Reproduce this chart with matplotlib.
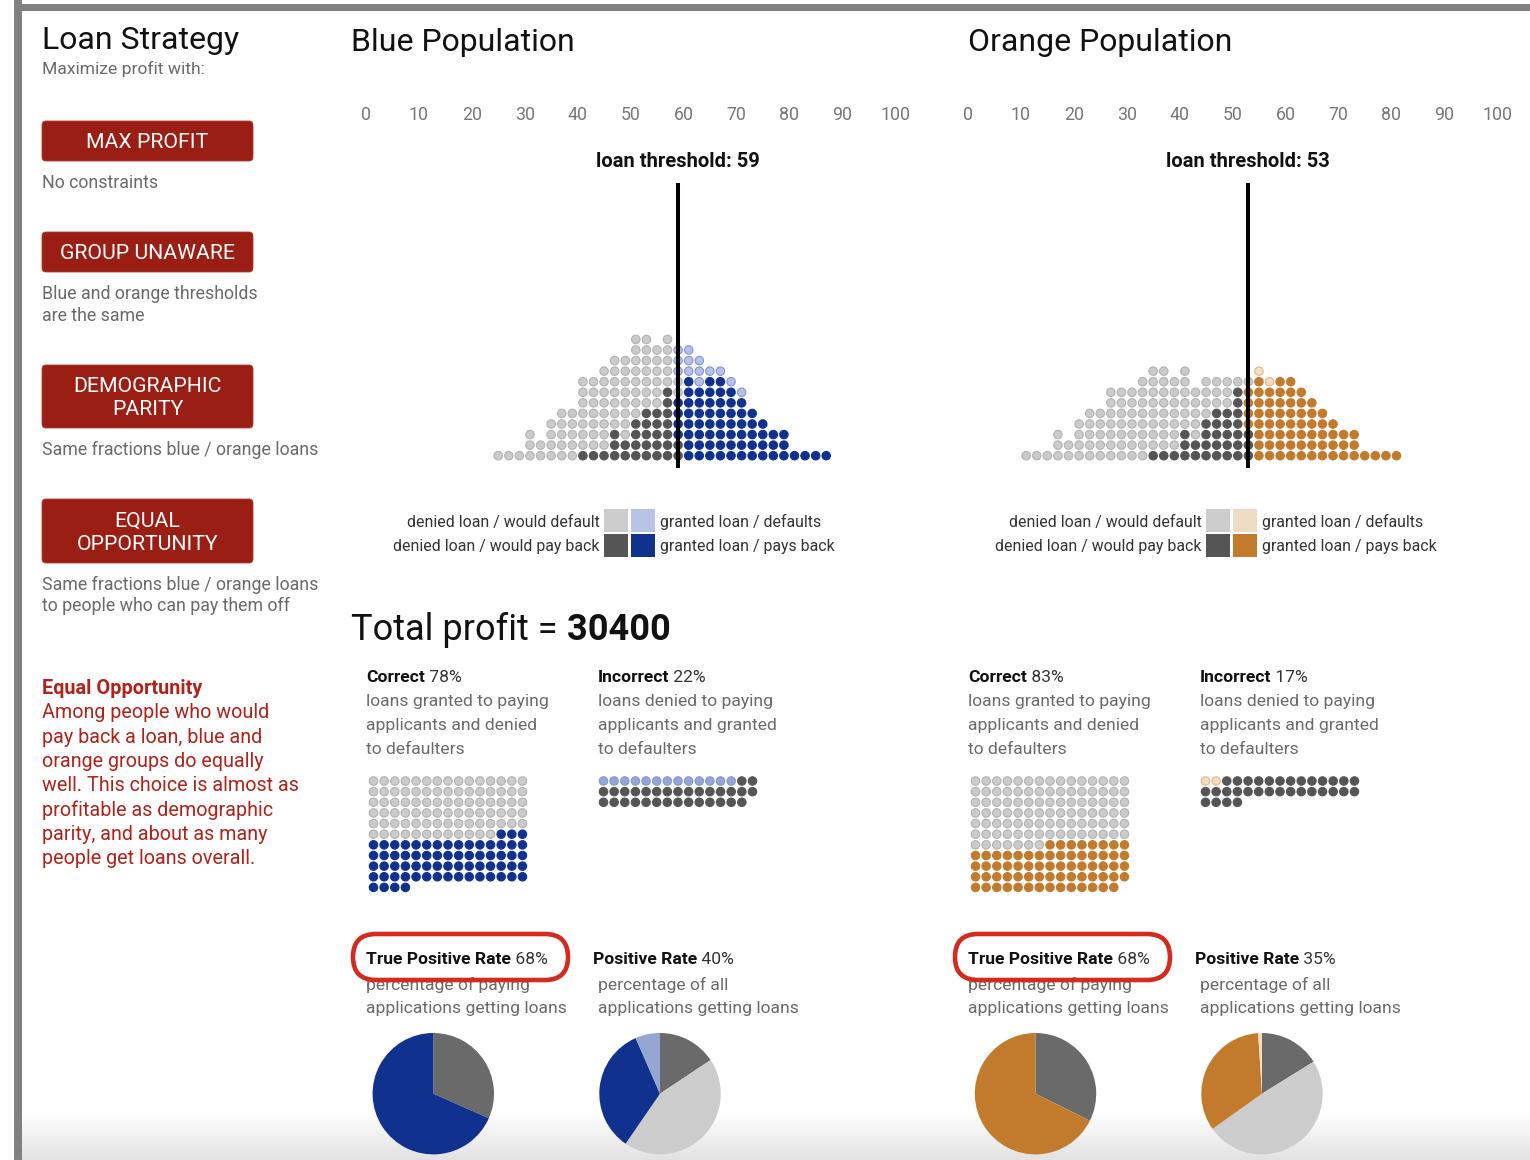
import numpy as np
import matplotlib
matplotlib.use("Agg")
import matplotlib.pyplot as plt
from matplotlib.patches import FancyBboxPatch, Rectangle
from matplotlib.colors import LinearSegmentedColormap

plt.rcParams['font.family'] = ['Roboto', 'DejaVu Sans']

# ---------------- data ----------------
score_ticks = [0, 10, 20, 30, 40, 50, 60, 70, 80, 90, 100]
blue_threshold = 59
orange_threshold = 53
total_profit = 30400

blue_bins = [25, 27, 29, 31, 33, 35, 37, 39, 41, 43, 45, 47, 49, 51, 53, 55,
             57, 59, 61, 63, 65, 67, 69, 71, 73, 75, 77, 79, 81, 83, 85, 87]
blue_denied_payback = [0, 0, 0, 0, 0, 0, 0, 0, 1, 1, 1, 3, 2, 4, 5, 5,
                       7, 2, 0, 0, 0, 0, 0, 0, 0, 0, 0, 0, 0, 0, 0, 0]
blue_granted_payback = [0, 0, 0, 0, 0, 0, 0, 0, 0, 0, 0, 0, 0, 0, 0, 0,
                        0, 4, 8, 7, 8, 8, 7, 6, 5, 4, 3, 3, 1, 1, 1, 1]
blue_denied_default = [1, 1, 1, 3, 2, 4, 5, 5, 7, 7, 8, 7, 8, 8, 7, 6,
                       5, 2, 0, 0, 0, 0, 0, 0, 0, 0, 0, 0, 0, 0, 0, 0]
blue_granted_default = [0, 0, 0, 0, 0, 0, 0, 0, 0, 0, 0, 0, 0, 0, 0, 0,
                        0, 3, 3, 3, 1, 1, 1, 1, 0, 0, 0, 0, 0, 0, 0, 0]

orange_bins = [11, 13, 15, 17, 19, 21, 23, 25, 27, 29, 31, 33, 35, 37, 39, 41, 43, 45,
               47, 49, 51, 53, 55, 57, 59, 61, 63, 65, 67, 69, 71, 73, 75, 77, 79, 81]
orange_denied_payback = [0, 0, 0, 0, 0, 0, 0, 0, 0, 0, 0, 0, 1, 1, 1, 3, 2, 4,
                         5, 5, 7, 3, 0, 0, 0, 0, 0, 0, 0, 0, 0, 0, 0, 0, 0, 0]
orange_granted_payback = [0, 0, 0, 0, 0, 0, 0, 0, 0, 0, 0, 0, 0, 0, 0, 0, 0, 0,
                          0, 0, 0, 4, 8, 7, 8, 8, 7, 6, 5, 4, 3, 3, 1, 1, 1, 1]
orange_denied_default = [1, 1, 1, 3, 2, 4, 5, 5, 7, 7, 7, 8, 8, 8, 7, 6, 5, 4,
                         3, 3, 1, 1, 0, 0, 0, 0, 0, 0, 0, 0, 0, 0, 0, 0, 0, 0]
orange_granted_default = [0, 0, 0, 0, 0, 0, 0, 0, 0, 0, 0, 0, 0, 0, 0, 0, 0, 0,
                          0, 0, 0, 0, 1, 1, 0, 0, 0, 0, 0, 0, 0, 0, 0, 0, 0, 0]

strategy_buttons = [["MAX PROFIT"], ["GROUP UNAWARE"], ["DEMOGRAPHIC", "PARITY"],
                    ["EQUAL", "OPPORTUNITY"]]
strategy_notes = [["No constraints"], ["Blue and orange thresholds", "are the same"],
                  ["Same fractions blue / orange loans"],
                  ["Same fractions blue / orange loans", "to people who can pay them off"]]
explain_title = "Equal Opportunity"
explain_lines = ["Among people who would", "pay back a loan, blue and",
                 "orange groups do equally", "well. This choice is almost as",
                 "profitable as demographic", "parity, and about as many",
                 "people get loans overall."]

# ---------------- styles ----------------
C_DG = '#555555'
C_LG, C_LG_E = '#cbcbcb', '#b2b2b2'
C_BLUE = '#11318f'
C_LBLUE, C_LBLUE_E = '#b7c1e6', '#8495d6'
C_OR = '#c27b2d'
C_LOR, C_LOR_E = '#f3dcc1', '#e4b887'
C_RED = '#9b1e14'
C_TXT_RED = '#b0221a'
C_BODY = '#6a6a6a'

W, H = 1530, 1160
fig = plt.figure(figsize=(W / 100, H / 100), dpi=100)
fig.patch.set_facecolor('white')


def add_ax(l, t, r, b, z=1):
    ax = fig.add_axes([l / W, 1 - b / H, (r - l) / W, (b - t) / H], zorder=z)
    ax.set_facecolor('none')
    return ax


ov = add_ax(0, 0, W, H, z=0)

# bottom fade
grad = np.linspace(0, 1, 100).reshape(-1, 1)
cmap = LinearSegmentedColormap.from_list('fade', ['#ffffff', '#e2e2e2'])
ov.imshow(grad, extent=[22, W, 1160, 1112], cmap=cmap, aspect='auto', zorder=0)
ov.set_xlim(0, W)
ov.set_ylim(H, 0)
ov.axis('off')

# frame bars
ov.add_patch(Rectangle((14, 0), 8, H, fc='#808080', ec='none', zorder=1))
ov.add_patch(Rectangle((14, 4), W - 14, 7, fc='#808080', ec='none', zorder=1))

PX = 100 / 72.0


def T(x, y, s, size, color='#222222', weight='normal', ha='left', z=3):
    return ov.text(x, y + 0.09 * size * PX, s, fontsize=size, color=color,
                   fontweight=weight, ha=ha, va='center', zorder=z)


def T2(x, y, bold, rest, size, color='#111111', rest_color='#333333'):
    t = T(x, y, bold, size, color=color, weight='bold')
    ov.annotate(rest, xy=(1, 0.5), xycoords=t, va='center', ha='left',
                fontsize=size, color=rest_color, zorder=3)
    return t


# ---------------- left panel ----------------
T(42, 38, "Loan Strategy", 23, color='#111111')
T(42, 67, "Maximize profit with:", 12.6, color=C_BODY)

btn_tops = [121, 232, 365, 499]
btn_bottoms = [161, 272, 428, 563]
note_ys = [[181], [292, 314], [448], [583, 604]]
for lines, top, bot, notes, nys in zip(strategy_buttons, btn_tops, btn_bottoms,
                                       strategy_notes, note_ys):
    ov.add_patch(FancyBboxPatch((42, top), 211, bot - top,
                                boxstyle='round,pad=0,rounding_size=4',
                                fc=C_RED, ec='#b04036', lw=0.6, zorder=2))
    mid = (top + bot) / 2
    n = len(lines)
    for i, ln in enumerate(lines):
        yy = mid + (i - (n - 1) / 2) * 23
        T(147.5, yy, ln, 15.3, color='white', ha='center')
    for ln, yy in zip(notes, nys):
        T(42, yy, ln, 12.8, color=C_BODY)

T(42, 687, explain_title, 14.3, color=C_TXT_RED, weight='bold')
for i, ln in enumerate(explain_lines):
    T(42, 711 + i * 24.3, ln, 14.2, color=C_TXT_RED)

# ---------------- titles ----------------
T(351, 40, "Blue Population", 23, color='#111111')
T(968, 40, "Orange Population", 23, color='#111111')

# ---------------- histograms ----------------
ROW0, DY = 455.7, 10.57


def hist_panel(left, right, bins, dp, gp, dd, gd, thr, col_dark, col_light, col_light_e):
    ax = add_ax(left, 125, right, 470)
    ax.set_xlim(0, 100)
    ax.set_ylim((ROW0 - 470) / DY, (ROW0 - 125) / DY)
    for sp in ax.spines.values():
        sp.set_visible(False)
    ax.set_xticks(score_ticks)
    ax.set_xticklabels([str(t) for t in score_ticks])
    ax.xaxis.tick_top()
    ax.tick_params(axis='x', length=0, pad=1, labelsize=12.8, labelcolor='#777777')
    ax.set_yticks([])
    xs, ys, fc, ec = [], [], [], []
    for b, n1, n2, n3, n4 in zip(bins, dp, gp, dd, gd):
        seq = ([(C_DG, C_DG)] * n1 + [(col_dark, col_dark)] * n2 +
               [(C_LG, C_LG_E)] * n3 + [(col_light, col_light_e)] * n4)
        for r, (f, e) in enumerate(seq):
            xs.append(b)
            ys.append(r)
            fc.append(f)
            ec.append(e)
    ax.scatter(xs, ys, s=37, c=fc, edgecolors=ec, linewidths=0.8, clip_on=False, zorder=2)
    ax.plot([thr, thr], [(ROW0 - 468) / DY, (ROW0 - 183) / DY], color='black', lw=2.9,
            solid_capstyle='butt', zorder=3)
    ax.text(thr, (ROW0 - 160 - 1.5) / DY, f'loan threshold: {thr}', ha='center', va='center',
            fontsize=14.5, fontweight='bold', color='#111111')
    return ax


hist_panel(366, 895, blue_bins, blue_denied_payback, blue_granted_payback,
           blue_denied_default, blue_granted_default, blue_threshold,
           C_BLUE, C_LBLUE, C_LBLUE_E)
hist_panel(968, 1497, orange_bins, orange_denied_payback, orange_granted_payback,
           orange_denied_default, orange_granted_default, orange_threshold,
           C_OR, C_LOR, C_LOR_E)


# ---------------- legends ----------------
def legend(xsq, xr, xl, col_light, col_dark):
    ov.add_patch(Rectangle((xsq, 509), 24, 23, fc='#cccccc', ec='none', zorder=2))
    ov.add_patch(Rectangle((xsq + 27, 509), 24, 23, fc=col_light, ec='none', zorder=2))
    ov.add_patch(Rectangle((xsq, 534), 24, 23, fc=C_DG, ec='none', zorder=2))
    ov.add_patch(Rectangle((xsq + 27, 534), 24, 23, fc=col_dark, ec='none', zorder=2))
    kw = dict(color='#333333')
    T(xr, 521, "denied loan / would default", 11.4, ha='right', **kw)
    T(xr, 545, "denied loan / would pay back", 11.4, ha='right', **kw)
    T(xl, 521, "granted loan / defaults", 11.4, **kw)
    T(xl, 545, "granted loan / pays back", 11.4, **kw)


legend(604, 600, 660, '#b9c3e6', C_BLUE)
legend(1206, 1202, 1262, '#efdcc4', C_OR)

# ---------------- total profit ----------------
tp = T(351, 627, "Total profit =", 26, color='#111111')
ov.annotate(f" {total_profit}", xy=(1, 0.5), xycoords=tp, va='center', ha='left',
            fontsize=26, fontweight='bold', color='#111111', zorder=3)


# ---------------- stats blocks ----------------
def pct(a, b):
    return int(round(100.0 * a / b))


def stats(x1, x2, dp, gp, dd, gd, col_dark, col_light, col_light_e, xpr, cx1, cx2):
    n_dp, n_gp, n_dd, n_gd = sum(dp), sum(gp), sum(dd), sum(gd)
    total = n_dp + n_gp + n_dd + n_gd
    correct = n_dd + n_gp
    incorrect = n_gd + n_dp
    fs = 12.6
    T2(x1, 676, "Correct", f" {pct(correct, total)}%", fs)
    for i, ln in enumerate(["loans granted to paying", "applicants and denied", "to defaulters"]):
        T(x1, 700 + 24 * i, ln, fs, color=C_BODY)
    T2(x2, 676, "Incorrect", f" {pct(incorrect, total)}%", fs)
    for i, ln in enumerate(["loans denied to paying", "applicants and granted", "to defaulters"]):
        T(x2, 700 + 24 * i, ln, fs, color=C_BODY)

    # dot grids
    sp = 10.64

    def grid(x0, counts_styles):
        ax = add_ax(x0 - sp / 2, 781 - sp / 2, x0 + 14.5 * sp, 781 + 10.5 * sp)
        ax.set_xlim(-0.5, 14.5)
        ax.set_ylim(10.5, -0.5)
        ax.axis('off')
        xs, ys, fc, ec = [], [], [], []
        i = 0
        for n, f, e in counts_styles:
            for _ in range(n):
                xs.append(i % 15)
                ys.append(i // 15)
                fc.append(f)
                ec.append(e)
                i += 1
        ax.scatter(xs, ys, s=37, c=fc, edgecolors=ec, linewidths=0.8, clip_on=False)

    grid(x1 + 7.5, [(n_dd, C_LG, C_LG_E), (n_gp, col_dark, col_dark)])
    grid(x2 + 5.5, [(n_gd, col_light, col_light_e), (n_dp, C_DG, C_DG)])

    # rates
    tpr = pct(n_gp, n_gp + n_dp)
    pr = pct(n_gp + n_gd, total)
    T2(x1, 958, "True Positive Rate", f" {tpr}%", fs)
    T(x1, 983, "percentage of paying", fs, color=C_BODY)
    T(x1, 1007, "applications getting loans", fs, color=C_BODY)
    ov.add_patch(FancyBboxPatch((x1 - 13, 934), 215, 46,
                                boxstyle='round,pad=0,rounding_size=23',
                                fc='none', ec='#d42a1f', lw=3.3, zorder=4))
    T2(xpr, 958, "Positive Rate", f" {pr}%", fs)
    T(x2, 983, "percentage of all", fs, color=C_BODY)
    T(x2, 1007, "applications getting loans", fs, color=C_BODY)

    # pies
    R = 60.7
    cy = 1093.7
    for cx, vals, cols in [(cx1, [n_dp, n_gp], ['#6a6a6a', col_dark]),
                           (cx2, [n_dp, n_dd, n_gp, n_gd],
                            ['#6a6a6a', '#cccccc', col_dark, col_light])]:
        ax = add_ax(cx - R, cy - R, cx + R, cy + R)
        ax.pie(vals, colors=cols, startangle=90, counterclock=False, radius=1,
               wedgeprops=dict(linewidth=0))
        ax.set_xlim(-1, 1)
        ax.set_ylim(-1, 1)


stats(366, 598, blue_denied_payback, blue_granted_payback, blue_denied_default,
      blue_granted_default, C_BLUE, '#94a6d1', C_LBLUE_E, 593, 433.3, 660.0)
stats(968, 1200, orange_denied_payback, orange_granted_payback, orange_denied_default,
      orange_granted_default, C_OR, '#f3dcc0', C_LOR_E, 1195, 1035.5, 1262.0)

fig.savefig('out.png', dpi=100, facecolor='white')
